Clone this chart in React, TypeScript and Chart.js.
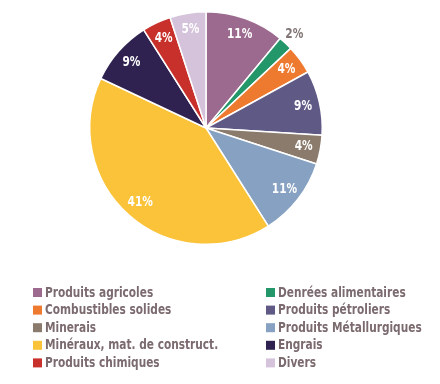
import React, { useEffect, useRef } from "react";
import { Chart, registerables } from "chart.js";

Chart.register(...registerables);

const categories = [
  "Produits agricoles",
  "Denrées alimentaires",
  "Combustibles solides",
  "Produits pétroliers",
  "Minerais",
  "Produits Métallurgiques",
  "Minéraux, mat. de construct.",
  "Engrais",
  "Produits chimiques",
  "Divers",
];
const shares = [11, 2, 4, 9, 4, 11, 41, 9, 4, 5];
const colors = [
  "#9B6A8E",
  "#24976A",
  "#EE7A2F",
  "#5E5985",
  "#8B7B6C",
  "#86A1C1",
  "#FBC33A",
  "#2F2250",
  "#C8302B",
  "#D5C3DB",
];
const outsideLabels = [1];

const FONT = '"DejaVu Sans Condensed", "DejaVu Sans", sans-serif';
const TEXT_COLOR = "#7B6A6E";
const SQUEEZE = 0.84;

function narrowText(ctx: any, text: string, x: number, y: number, align: "left" | "center") {
  ctx.save();
  ctx.translate(x, y);
  ctx.scale(SQUEEZE, 1);
  ctx.textAlign = align;
  ctx.fillText(text, 0, 0);
  ctx.restore();
}

const labelPlugin = {
  id: "sliceLabels",
  afterDatasetsDraw(chart: any) {
    const ctx = chart.ctx;
    const meta = chart.getDatasetMeta(0);
    ctx.save();
    ctx.textBaseline = "middle";
    ctx.font = `bold 14px ${FONT}`;
    meta.data.forEach((arc: any, i: number) => {
      const p = arc.getProps(["x", "y", "startAngle", "endAngle", "outerRadius"], true);
      const mid = (p.startAngle + p.endAngle) / 2;
      const outside = outsideLabels.includes(i);
      const r = outside ? p.outerRadius * 1.11 : p.outerRadius * 0.855;
      const x = p.x + Math.cos(mid) * r;
      const y = p.y + Math.sin(mid) * r;
      ctx.fillStyle = outside ? "#807474" : "#FFFFFF";
      narrowText(ctx, `${shares[i]}%`, x, y, "center");
    });
    ctx.restore();
  },
};

const legendPlugin = {
  id: "twoColLegend",
  afterDraw(chart: any) {
    const ctx = chart.ctx;
    ctx.save();
    ctx.font = `bold 14px ${FONT}`;
    ctx.textBaseline = "middle";
    const colX = [33, 266];
    const startY = 292.5;
    const stepY = 17.6;
    categories.forEach((name, i) => {
      const col = i % 2;
      const row = Math.floor(i / 2);
      const y = startY + row * stepY;
      ctx.fillStyle = colors[i];
      ctx.fillRect(colX[col], y - 4.5, 9, 9);
      ctx.fillStyle = TEXT_COLOR;
      narrowText(ctx, name, colX[col] + 12, y + 0.5, "left");
    });
    ctx.restore();
  },
};

export default function App() {
  const ref = useRef<HTMLCanvasElement | null>(null);
  useEffect(() => {
    document.body.style.margin = "0";
    const chart = new Chart(ref.current as HTMLCanvasElement, {
      type: "pie",
      data: {
        labels: categories,
        datasets: [
          {
            data: shares,
            backgroundColor: colors,
            borderColor: "#FFFFFF",
            borderWidth: 1.5,
          },
        ],
      },
      options: {
        responsive: false,
        animation: false,
        layout: { padding: { left: 89, right: 117, top: 11, bottom: 139 } },
        plugins: {
          legend: { display: false },
          tooltip: { enabled: false },
        },
      },
      plugins: [labelPlugin, legendPlugin],
    });
    return () => chart.destroy();
  }, []);
  return (
    <div style={{ position: "absolute", left: 0, top: 0, width: 440, height: 384, background: "#fff" }}>
      <canvas ref={ref} width={440} height={384} />
    </div>
  );
}
